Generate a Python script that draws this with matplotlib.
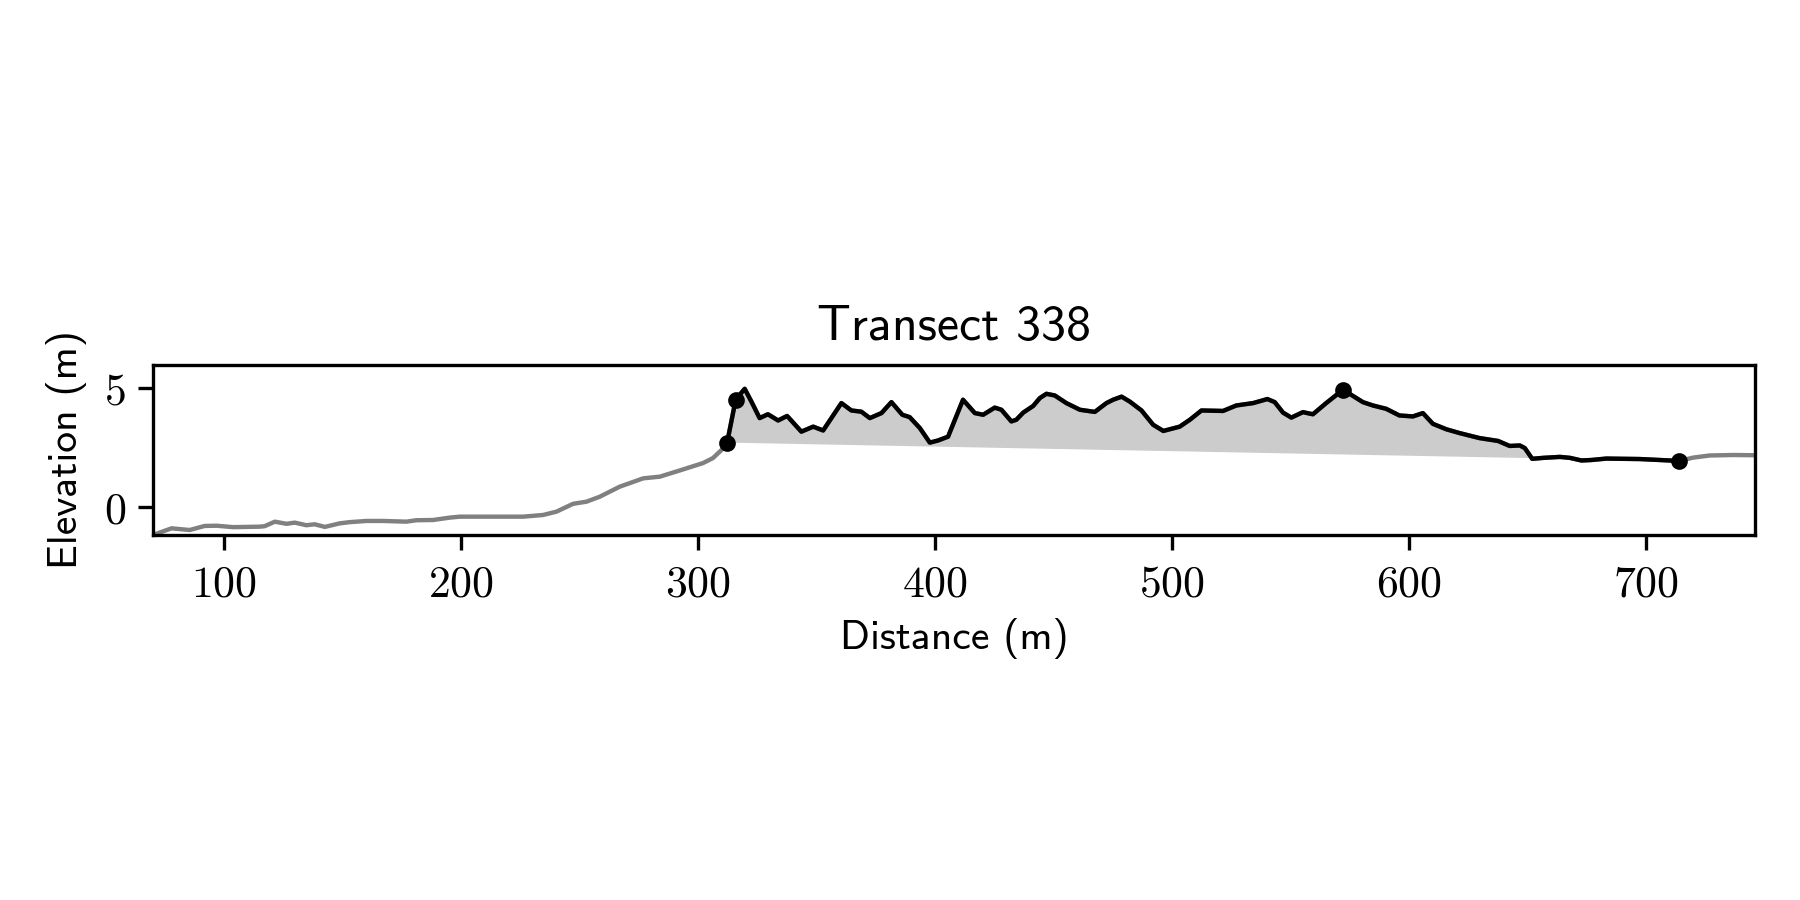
import numpy as np
from matplotlib import pyplot as plt
from matplotlib.ticker import FuncFormatter

title = "Transect 338"

# profile along the transect (distance m, elevation m)
dist = [70.1, 77.9, 85.6, 91.9, 96.9, 103.9, 115.1, 117.2, 121.5, 126.4,
        129.9, 134.8, 138.3, 142.6, 148.9, 153.1, 160.1, 167.1, 177.0, 181.2,
        188.2, 195.3, 199.5, 212.2, 226.2, 234.6, 240.3, 247.3, 253.0, 258.6,
        267.0, 276.9, 283.9, 292.3, 302.1, 306.3, 309.9, 312.3,
        315.9, 319.7, 322.5, 326.0, 329.5, 333.8, 337.6, 343.6, 348.6, 352.8,
        360.5, 364.7, 368.9, 372.5, 377.4, 381.6, 386.2, 389.3, 393.6, 397.8,
        401.3, 405.5, 411.8, 416.8, 420.3, 425.2, 428.0, 432.2, 434.3, 437.2,
        441.4, 444.2, 447.0, 450.5, 455.4, 461.1, 467.4, 472.3, 475.1, 478.7,
        482.2, 487.1, 492.0, 496.3, 503.2, 507.5, 512.4, 521.5, 527.1, 534.2,
        540.2, 543.3, 546.8, 550.3, 555.2, 559.4, 565.0, 572.1, 580.5, 584.7,
        590.3, 595.9, 601.6, 605.8, 610.0, 615.7, 621.3, 629.7, 637.5, 642.4,
        646.7, 648.8, 651.9, 656.6, 663.6, 667.8, 672.7, 676.9, 683.2, 697.3,
        705.7, 713.9, 719.8, 726.8, 736.7, 745.9]
elev = [-1.18, -0.90, -0.97, -0.80, -0.79, -0.85, -0.83, -0.81, -0.62, -0.71,
        -0.66, -0.77, -0.73, -0.84, -0.69, -0.64, -0.59, -0.59, -0.62, -0.56,
        -0.55, -0.45, -0.41, -0.41, -0.41, -0.34, -0.20, 0.13, 0.22, 0.43,
        0.85, 1.20, 1.27, 1.53, 1.84, 2.05, 2.39, 2.70,
        4.50, 4.96, 4.43, 3.73, 3.89, 3.63, 3.82, 3.16, 3.37, 3.21,
        4.36, 4.05, 4.00, 3.73, 3.94, 4.40, 3.87, 3.77, 3.31, 2.70,
        2.79, 2.95, 4.50, 3.94, 3.87, 4.17, 4.08, 3.59, 3.66, 3.96,
        4.24, 4.57, 4.75, 4.68, 4.36, 4.08, 3.99, 4.36, 4.50, 4.63,
        4.42, 4.05, 3.45, 3.19, 3.37, 3.66, 4.05, 4.03, 4.26, 4.36,
        4.53, 4.40, 3.96, 3.75, 3.98, 3.89, 4.36, 4.92, 4.40, 4.26,
        4.12, 3.84, 3.80, 3.94, 3.49, 3.26, 3.10, 2.89, 2.77, 2.56,
        2.58, 2.47, 2.02, 2.06, 2.10, 2.06, 1.95, 1.97, 2.03, 2.01,
        1.97, 1.93, 2.07, 2.16, 2.18, 2.17]

# marked points: seaward limit, crest, max, landward limit
marks = [312.3, 315.9, 572.1, 713.9]

dist = np.array(dist)
elev = np.array(elev)
idx = [int(np.argmin(np.abs(dist - m))) for m in marks]
i0, i1 = idx[0], idx[-1]

plt.rcParams['mathtext.fontset'] = 'cm'

fig = plt.figure(figsize=(6, 3), dpi=300)
ax = fig.add_axes([153/1800, 1 - 535/900, 1602/1800, 170/900])

# straight line between the first and last marked point
xs = dist[i0:i1 + 1]
ys = elev[i0:i1 + 1]
base = np.interp(xs, [dist[i0], dist[i1]], [elev[i0], elev[i1]])
ax.fill_between(xs, ys, base, where=ys >= base, color='#cccccc', lw=0,
                interpolate=True)

ax.plot(dist, elev, color='gray', lw=1.05)
ax.plot(xs, ys, color='black', lw=1.05)
ax.plot(dist[idx], elev[idx], 'o', color='black', ms=3)

ax.set_xlim(dist.min(), dist.max())
ax.set_ylim(elev.min(), elev.max() + 1)
ax.set_xticks([100, 200, 300, 400, 500, 600, 700])
ax.set_yticks([0, 5])
fmt = FuncFormatter(lambda v, p: r'$%d$' % v)
ax.xaxis.set_major_formatter(fmt)
ax.yaxis.set_major_formatter(fmt)
ax.tick_params(labelsize=10.5, pad=3)

ax.set_title(title, fontfamily='cmss10', fontsize=12)
ax.set_xlabel('Distance (m)', fontfamily='cmss10', fontsize=10, labelpad=3)
ax.set_ylabel('Elevation (m)', fontfamily='cmss10', fontsize=10)

fig.savefig('out.png', dpi=300)
